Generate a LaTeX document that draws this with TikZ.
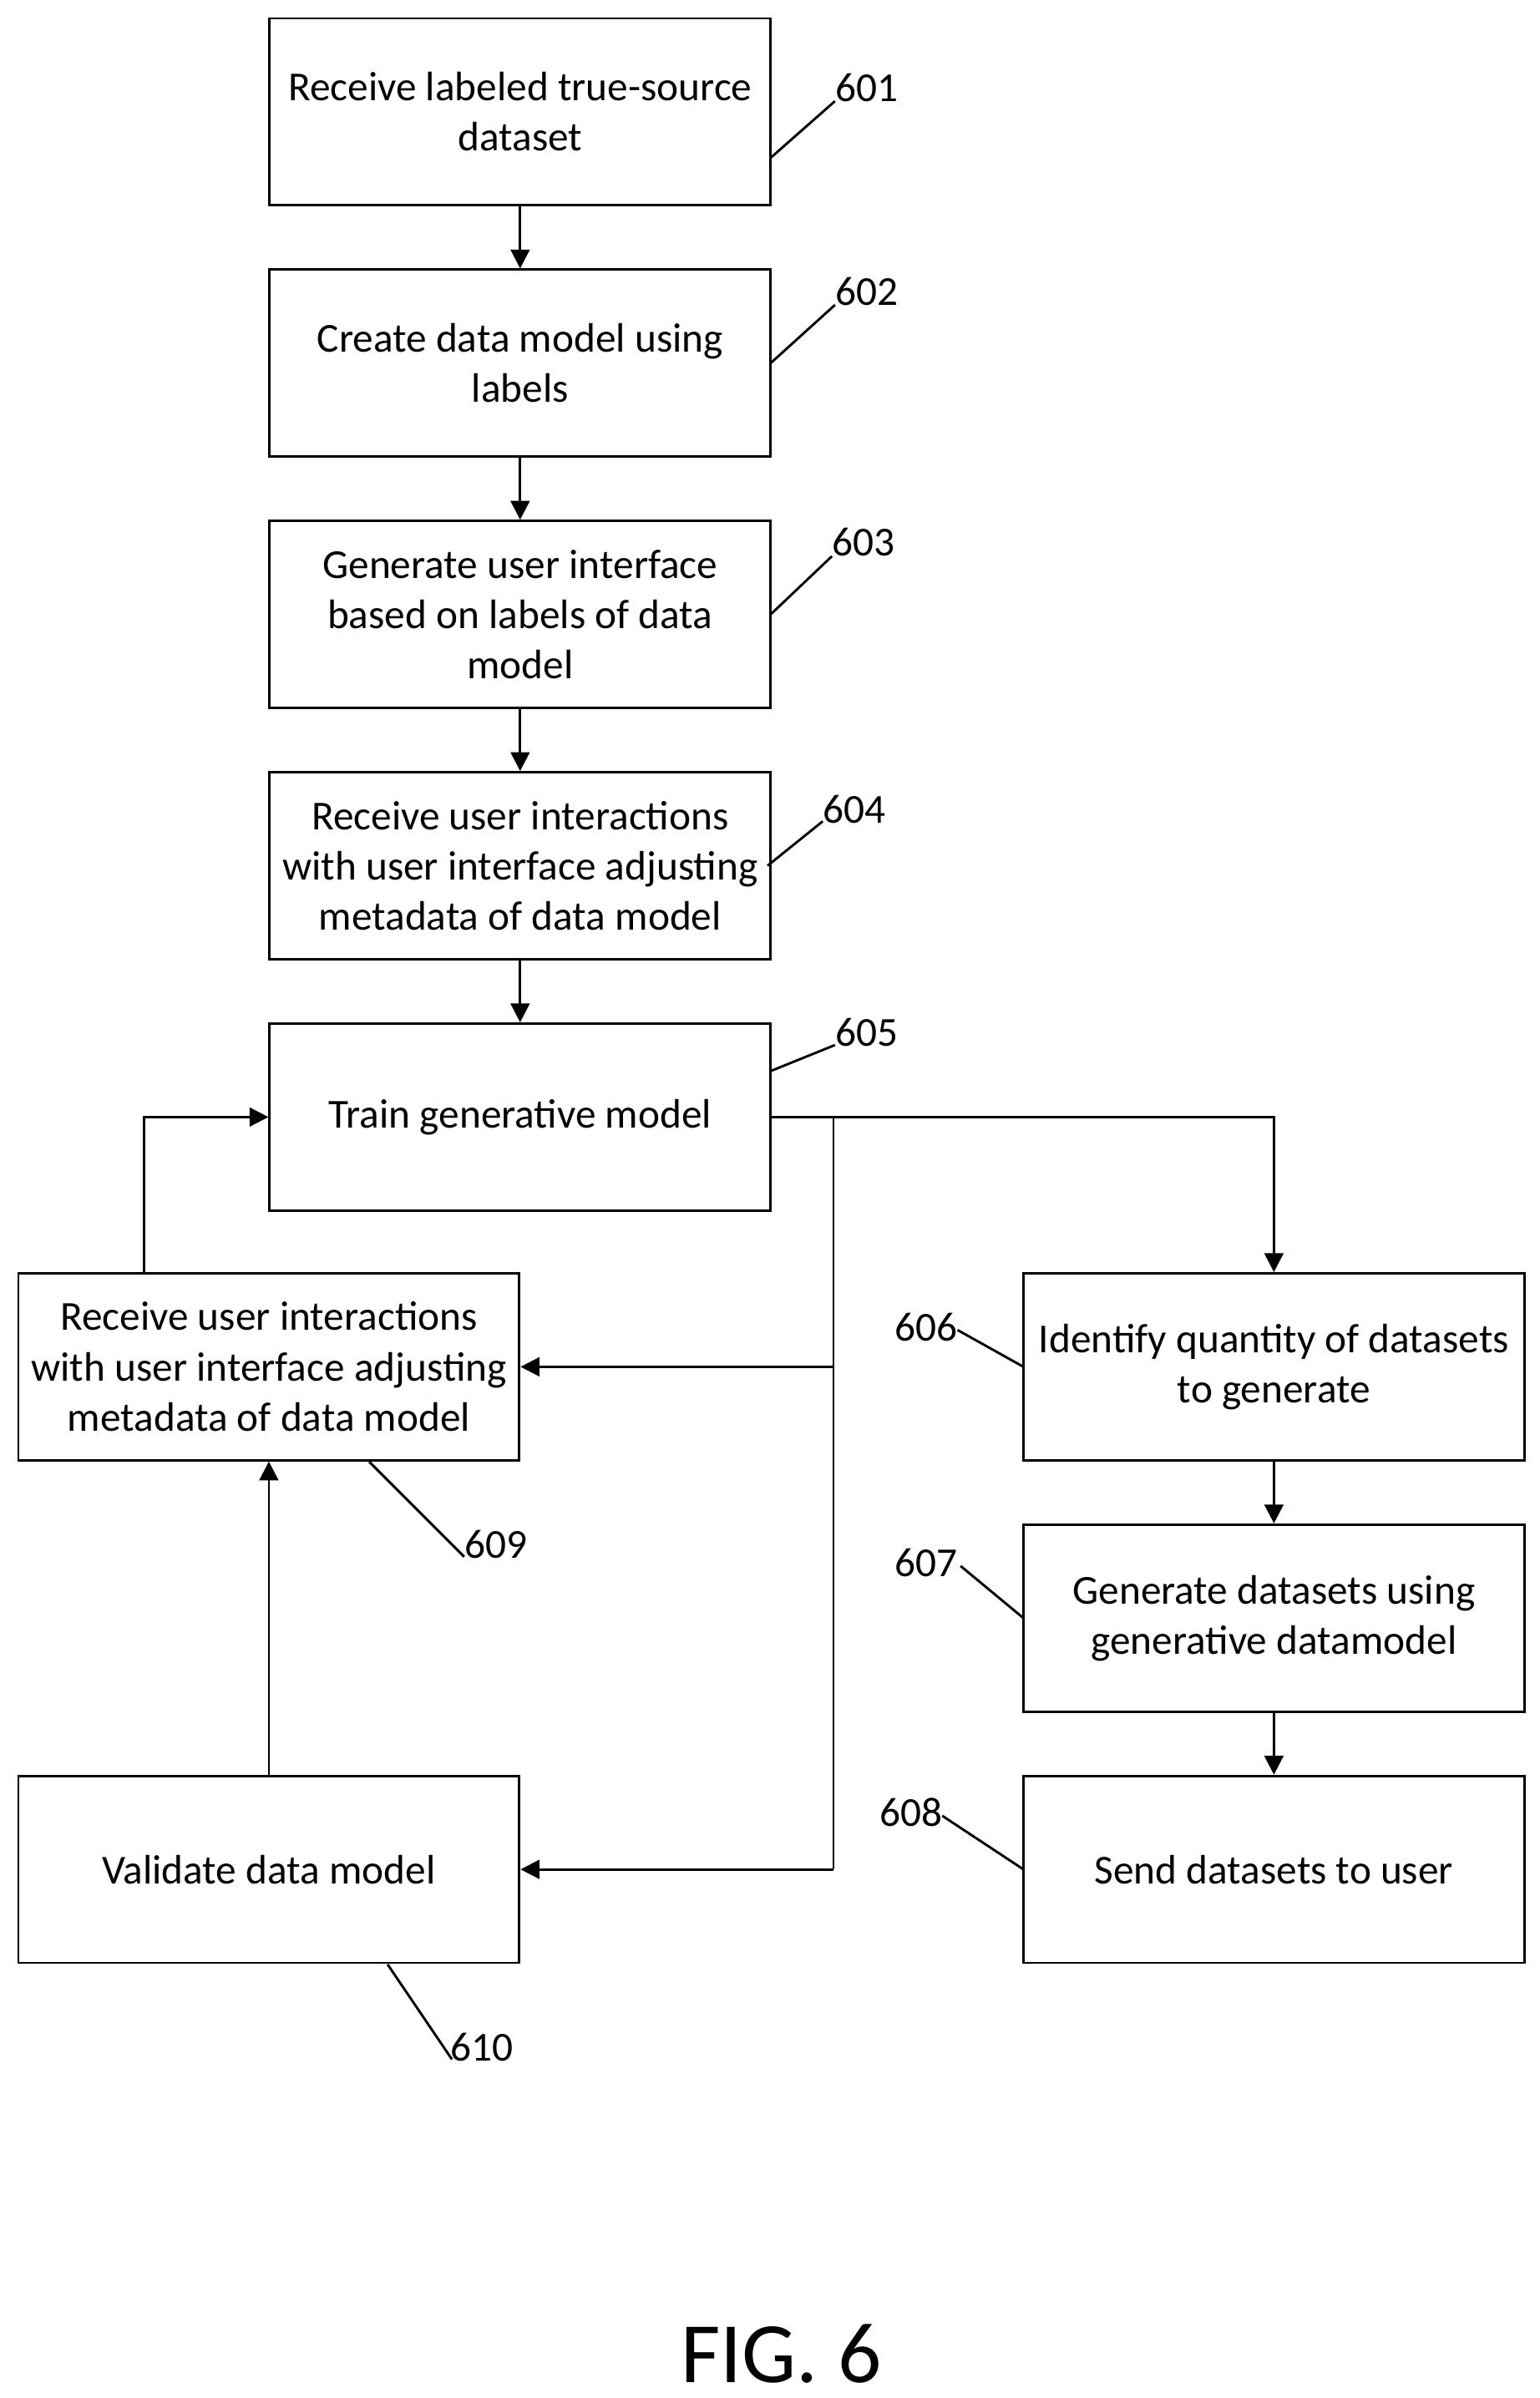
\documentclass[tikz,border=0pt]{standalone}
\usepackage{fontspec}
\setmainfont{Carlito}
\usetikzlibrary{arrows.meta}
\begin{document}
\begin{tikzpicture}[x=0.02cm,y=-0.02cm,
  box/.style={draw,line width=0.9pt,minimum width=327*0.02cm,minimum height=122*0.02cm,align=center,font=\fontsize{15.3}{18.7}\selectfont,inner sep=0pt},
  lab/.style={font=\fontsize{15.3}{18.7}\selectfont,inner sep=1pt},
  ln/.style={line width=0.9pt},
  arr/.style={line width=0.9pt,-{Triangle[length=7pt,width=7pt]}}]
\useasboundingbox (0,0) rectangle (1005,1565);
\node[box] (b601) at (339.5,73) {Receive labeled true-source\\dataset};
\node[box] (b602) at (339.5,237) {Create data model using\\labels};
\node[box] (b603) at (339.5,401) {Generate user interface\\based on labels of data\\model};
\node[box] (b604) at (339.5,565) {Receive user interactions\\with user interface adjusting\\metadata of data model};
\node[box] (b605) at (339.5,729) {Train generative model};
\node[box] (b609) at (175.5,892) {Receive user interactions\\with user interface adjusting\\metadata of data model};
\node[box] (b610) at (175.5,1220) {Validate data model};
\node[box] (b606) at (831.5,892) {Identify quantity of datasets\\to generate};
\node[box] (b607) at (831.5,1056) {Generate datasets using\\generative datamodel};
\node[box] (b608) at (831.5,1220) {Send datasets to user};
\draw[arr] (b601) -- (b602);
\draw[arr] (b602) -- (b603);
\draw[arr] (b603) -- (b604);
\draw[arr] (b604) -- (b605);
\draw[arr] (b606) -- (b607);
\draw[arr] (b607) -- (b608);
\coordinate (j) at (544,729);
\draw[arr] (b605.east) -| (b606.north);
\draw[ln] (j) -- (544,1220);
\draw[arr] (544,892) -- (b609.east);
\draw[arr] (544,1220) -- (b610.east);
\draw[arr] (b610.north) -- (b609.south);
\draw[arr] (94,831) |- (b605.west);
% labels
\node[lab,anchor=west] (l601) at (543,57) {601};
\draw[ln] (503,103) -- (545,66);
\node[lab,anchor=west] (l602) at (543,190) {602};
\draw[ln] (503,237) -- (545,199);
\node[lab,anchor=west] (l603) at (541,354) {603};
\draw[ln] (503,401) -- (543,363);
\node[lab,anchor=west] (l604) at (535,528) {604};
\draw[ln] (501,565) -- (537,536);
\node[lab,anchor=west] (l605) at (543,674) {605};
\draw[ln] (503,699) -- (545,682);
\node[lab,anchor=east] (l606) at (627,866) {606};
\draw[ln] (668,892) -- (625,868);
\node[lab,anchor=east] (l607) at (627,1020) {607};
\draw[ln] (668,1056) -- (627,1022);
\node[lab,anchor=east] (l608) at (617,1183) {608};
\draw[ln] (668,1220) -- (615,1185);
\node[lab,anchor=west] (l609) at (301,1008) {609};
\draw[ln] (241,954) -- (303,1016);
\node[lab,anchor=west] (l610) at (292,1336) {610};
\draw[ln] (253,1282) -- (295,1344);
\node[font=\fontsize{32}{36}\selectfont] (fig) at (510,1536) {FIG. 6};
\end{tikzpicture}
\end{document}
